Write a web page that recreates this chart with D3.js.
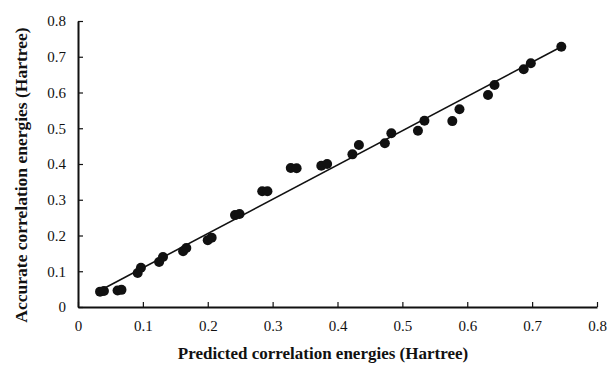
<!DOCTYPE html>
<html lang="en">
<head>
    <meta charset="utf-8">
    <title>Predicted vs accurate correlation energies</title>
    <script src="https://cdn.jsdelivr.net/npm/d3@7"></script>
    <style type="text/css">
        body {
            margin: 0;
            background: #fff;
        }
        text {
            font-family: "Liberation Serif", "Times New Roman", serif;
            fill: #111;
        }
        .axis path,
        .axis line {
            stroke: #111;
        }
        .fit {
            fill: none;
            stroke: #111;
            stroke-width: 1.6;
        }
    </style>
</head>
<body>
<svg></svg>
<script type="text/javascript">
    // predicted vs accurate (Hartree)
    var predicted = [0.034, 0.040, 0.061, 0.067, 0.092, 0.097, 0.125, 0.131, 0.162, 0.167,
        0.200, 0.206, 0.242, 0.249, 0.284, 0.292, 0.328, 0.337, 0.375, 0.384,
        0.423, 0.433, 0.473, 0.483, 0.524, 0.534, 0.577, 0.588, 0.632, 0.642,
        0.687, 0.698, 0.745];
    var accurate = [0.043, 0.045, 0.046, 0.048, 0.095, 0.110, 0.126, 0.140, 0.156, 0.165,
        0.187, 0.194, 0.257, 0.260, 0.324, 0.324, 0.389, 0.388, 0.395, 0.400,
        0.427, 0.453, 0.458, 0.486, 0.493, 0.521, 0.520, 0.553, 0.593, 0.621,
        0.665, 0.682, 0.728];
    // trend line end points
    var fitX = [0.042, 0.745];
    var fitY = [0.054, 0.728];
    var xTicks = [0, 0.1, 0.2, 0.3, 0.4, 0.5, 0.6, 0.7, 0.8];
    var yTicks = [0, 0.1, 0.2, 0.3, 0.4, 0.5, 0.6, 0.7, 0.8];

    var width = 610,
        height = 365,
        margin = {top: 21, right: 13, bottom: 58, left: 78};

    var svg = d3.select('svg')
        .attr('width', width)
        .attr('height', height);

    var x = d3.scaleLinear()
        .domain([0, 0.8])
        .range([margin.left, width - margin.right]);

    var y = d3.scaleLinear()
        .domain([0, 0.8])
        .range([height - margin.bottom, margin.top]);

    var fmt = function (d) { return d === 0 ? '0' : d3.format('.1f')(d); };

    var gx = svg.append('g')
        .attr('class', 'axis')
        .attr('transform', 'translate(0,' + y(0) + ')')
        .call(d3.axisBottom(x).tickValues(xTicks).tickSizeInner(-5).tickSizeOuter(0).tickFormat(fmt));
    gx.select('.domain').attr('stroke-width', 2);
    gx.selectAll('.tick line').attr('stroke-width', 1.2);
    gx.selectAll('text')
        .style('font-size', '15px')
        .attr('y', 13)
        .attr('dy', '0.71em');

    var gy = svg.append('g')
        .attr('class', 'axis')
        .attr('transform', 'translate(' + x(0) + ',0)')
        .call(d3.axisLeft(y).tickValues(yTicks).tickSizeInner(-5).tickSizeOuter(0).tickFormat(fmt));
    gy.select('.domain').attr('stroke-width', 2);
    gy.selectAll('.tick line').attr('stroke-width', 1.2);
    gy.selectAll('text')
        .style('font-size', '15px')
        .attr('x', -12);

    var points = predicted.map(function (p, i) { return {p: p, a: accurate[i]}; });

    svg.append('g')
        .selectAll('circle')
        .data(points)
        .enter().append('circle')
        .attr('cx', function (d) { return x(d.p); })
        .attr('cy', function (d) { return y(d.a); })
        .attr('r', 5)
        .attr('fill', '#111');

    var line = d3.line()
        .x(function (d) { return x(d[0]); })
        .y(function (d) { return y(d[1]); });

    svg.append('path')
        .datum(fitX.map(function (v, i) { return [v, fitY[i]]; }))
        .attr('class', 'fit')
        .attr('d', line);

    svg.append('text')
        .attr('x', 323)
        .attr('y', 359)
        .attr('text-anchor', 'middle')
        .style('font-size', '17px')
        .style('font-weight', 'bold')
        .text('Predicted correlation energies (Hartree)');

    svg.append('text')
        .attr('transform', 'translate(27,' + 175 + ') rotate(-90)')
        .attr('text-anchor', 'middle')
        .style('font-size', '17.5px')
        .style('font-weight', 'bold')
        .text('Accurate correlation energies (Hartree)');
</script>
</body>
</html>
